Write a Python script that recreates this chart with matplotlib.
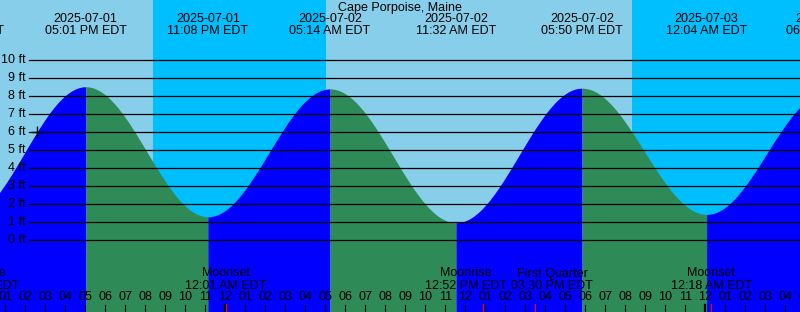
from datetime import datetime, timedelta
import numpy as np
import matplotlib
matplotlib.use("Agg")
import matplotlib.pyplot as plt

# Станция и данные прилива (время EDT, высота в футах)
station = "Cape Porpoise, Maine"
tide_times = ["2025-07-01 10:55", "2025-07-01 17:01", "2025-07-01 23:08",
              "2025-07-02 05:14", "2025-07-02 11:32", "2025-07-02 17:50",
              "2025-07-03 00:04", "2025-07-03 06:05"]
tide_heights = [1.2, 8.53, 1.31, 8.41, 0.98, 8.45, 1.44, 8.2]

# восход/закат солнца (границы ночи)
sunsets = ["2025-07-01 20:23", "2025-07-02 20:21"]
sunrises = ["2025-07-02 05:02", "2025-07-03 05:03"]

# события луны
moon_times = ["2025-07-01 11:42", "2025-07-02 00:01", "2025-07-02 12:52",
              "2025-07-02 15:30", "2025-07-03 00:18"]
moon_names = ["Moonrise", "Moonset", "Moonrise", "First Quarter", "Moonset"]

now_time = "2025-07-01 14:35"
ft_levels = list(range(0, 11))

W, H = 800, 312
origin = datetime(2025, 7, 2, 0, 0)
px_per_hour = 20.0
x0_px = 225.3          # пиксель полуночи 2 июля
px_per_ft = 18.0
y0_px = 240.3          # пиксель уровня 0 ft

def parse(s):
    return datetime.strptime(s, "%Y-%m-%d %H:%M")

def hours(s):
    return (parse(s) - origin).total_seconds() / 3600.0

def ypx(p):
    # пиксель сверху -> доля осей
    return 1 - p / H

t_ext = np.array([hours(s) for s in tide_times])
h_ext = np.array(tide_heights)

def tide_at(t):
    # косинусная интерполяция между экстремумами
    t = np.asarray(t, dtype=float)
    i = np.clip(np.searchsorted(t_ext, t) - 1, 0, len(t_ext) - 2)
    ta, tb = t_ext[i], t_ext[i + 1]
    ha, hb = h_ext[i], h_ext[i + 1]
    f = (t - ta) / (tb - ta)
    return ha + (hb - ha) * (1 - np.cos(np.pi * f)) / 2

xmin = -x0_px / px_per_hour
xmax = (W - x0_px) / px_per_hour
ymin = -(H - y0_px) / px_per_ft
ymax = y0_px / px_per_ft

plt.rcParams['font.family'] = ['Liberation Sans', 'DejaVu Sans']
plt.rcParams['font.size'] = 9

fig = plt.figure(figsize=(W / 100, H / 100), dpi=100)
ax = fig.add_axes([0, 0, 1, 1])
ax.set_xlim(xmin, xmax)
ax.set_ylim(ymin, ymax)
ax.axis('off')
tr = ax.get_xaxis_transform()

# фон: день / ночь
ax.axvspan(xmin, xmax, color='#87CEEB', lw=0, zorder=0)
for ss, sr in zip(sunsets, sunrises):
    ax.axvspan(hours(ss), hours(sr), color='#00BFFF', lw=0, zorder=0.5)

# вода: прилив синий, отлив зелёный
for k in range(len(t_ext) - 1):
    a, b = t_ext[k], t_ext[k + 1]
    tt = np.linspace(a, b, 200)
    color = '#0000FF' if h_ext[k + 1] > h_ext[k] else '#2E8B57'
    ax.fill_between(tt, ymin, tide_at(tt), color=color, lw=0, zorder=1)

# горизонтальные линии уровней
for lv in ft_levels:
    ax.plot([xmin + 29 / px_per_hour, xmax], [lv, lv], color='black', lw=0.9, zorder=2)
    ax.text(xmin + 26 / px_per_hour, lv, f"{lv} ft", ha='right', va='center', zorder=3)

# текущее время
tn = hours(now_time)
ax.plot([tn], [tide_at(tn)], marker='+', color='black', ms=8, mew=1, zorder=3)

ax.text(0.5, ypx(7.5), station, transform=ax.transAxes, ha='center', va='center')

# подписи экстремумов
for s in tide_times:
    d = parse(s)
    ax.text(hours(s), ypx(19.5), d.strftime("%Y-%m-%d"), transform=tr, ha='center', va='center')
    ax.text(hours(s), ypx(31.5), d.strftime("%I:%M %p EDT"), transform=tr, ha='center', va='center')

# часовые отметки
h = datetime(2025, 7, 1, 12)
while h <= datetime(2025, 7, 3, 6):
    t = (h - origin).total_seconds() / 3600.0
    lw = 1.6 if h.hour == 0 else 0.8
    ax.plot([t, t], [ypx(305), ypx(312)], transform=tr, color='black', lw=lw, zorder=3)
    ax.text(t, ypx(297.5), h.strftime("%I"), transform=tr, ha='center', va='center', zorder=3)
    h += timedelta(hours=1)

# события луны: раздвигаем пересекающиеся подписи
label_w = 86 / px_per_hour
pos = [hours(s) for s in moon_times]
for k in range(len(pos) - 1):
    gap = pos[k + 1] - pos[k]
    if gap < label_w:
        shift = (label_w - gap) / 2
        pos[k] -= shift
        pos[k + 1] += shift
for s, name, p in zip(moon_times, moon_names, pos):
    t = hours(s)
    ax.plot([t, t], [ypx(304), ypx(312)], transform=tr, color='red', lw=0.8, zorder=4)
    ax.text(p, ypx(273.5), name, transform=tr, ha='center', va='center', zorder=3)
    ax.text(p, ypx(286), parse(s).strftime("%I:%M %p EDT"), transform=tr,
            ha='center', va='center', zorder=3)

fig.savefig("out.png", dpi=100)
